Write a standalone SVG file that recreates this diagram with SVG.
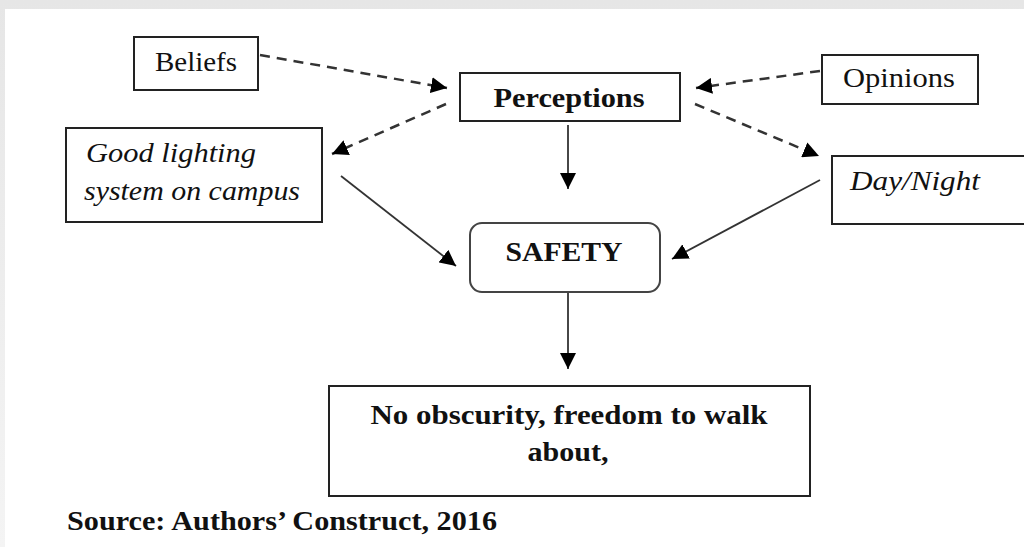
<svg xmlns="http://www.w3.org/2000/svg" width="1024" height="547" viewBox="0 0 1024 547">
<defs>
<linearGradient id="topg" x1="0" y1="0" x2="0" y2="1"><stop offset="0" stop-color="#e6e6e6"/><stop offset="1" stop-color="#f4f4f4"/></linearGradient>
<marker id="ah" viewBox="0 0 10 10" refX="10" refY="5" markerWidth="16" markerHeight="16" markerUnits="userSpaceOnUse" orient="auto"><path d="M0,0 L10,5 L0,10 Z" fill="#000"/></marker>
</defs>
<style>
.box{fill:#fff;stroke:#222;stroke-width:2}
.t{font-family:"Liberation Serif","Times New Roman",serif;font-size:28px;fill:#111}
.b{font-weight:bold}
.i{font-style:italic}
.dash{fill:none;stroke:#333;stroke-width:2.5;stroke-dasharray:10,7}
.sol{fill:none;stroke:#333;stroke-width:1.8}
</style>
<rect x="0" y="0" width="1024" height="547" fill="url(#topg)"/>
<rect x="5" y="9" width="1019" height="538" fill="#fff"/>
<g id="connectors">
<path class="dash" d="M260,55 L447,88" marker-end="url(#ah)"/>
<path class="dash" d="M820,71 L696,88" marker-end="url(#ah)"/>
<path class="dash" d="M446,104 L332,154" marker-end="url(#ah)"/>
<path class="dash" d="M695,104 L819,156" marker-end="url(#ah)"/>
<path class="sol" d="M568,125 L568,189" marker-end="url(#ah)"/>
<path class="sol" d="M341,176 L456,266" marker-end="url(#ah)"/>
<path class="sol" d="M820,180 L672,259" marker-end="url(#ah)"/>
<path class="sol" d="M568,293 L568,369" marker-end="url(#ah)"/>
</g>
<g id="beliefs">
<rect class="box" x="134" y="37" width="124" height="53"/>
<text class="t" x="196" y="71" text-anchor="middle" textLength="82" lengthAdjust="spacingAndGlyphs">Beliefs</text>
</g>
<g id="perceptions">
<rect class="box" x="460" y="73" width="220" height="48"/>
<text class="t b" x="569" y="107" text-anchor="middle" textLength="151" lengthAdjust="spacingAndGlyphs">Perceptions</text>
</g>
<g id="opinions">
<rect class="box" x="822" y="55" width="156" height="49"/>
<text class="t" x="899" y="87" text-anchor="middle" textLength="112" lengthAdjust="spacingAndGlyphs">Opinions</text>
</g>
<g id="lighting">
<rect class="box" x="66" y="128" width="256" height="94"/>
<text class="t i" x="86" y="162" textLength="170" lengthAdjust="spacingAndGlyphs">Good lighting</text>
<text class="t i" x="84" y="200" textLength="216" lengthAdjust="spacingAndGlyphs">system on campus</text>
</g>
<g id="daynight">
<rect class="box" x="832" y="156" width="200" height="68"/>
<text class="t i" x="850" y="190" textLength="130" lengthAdjust="spacingAndGlyphs">Day/Night</text>
</g>
<g id="safety">
<rect class="box" x="470" y="223" width="190" height="69" rx="12" ry="12" style="stroke:#444"/>
<text class="t b" x="564" y="261" text-anchor="middle" textLength="117" lengthAdjust="spacingAndGlyphs">SAFETY</text>
</g>
<g id="outcome">
<rect class="box" x="329" y="386" width="481" height="110"/>
<text class="t b" x="569" y="424" text-anchor="middle" textLength="397" lengthAdjust="spacingAndGlyphs">No obscurity, freedom to walk</text>
<text class="t b" x="568" y="461" text-anchor="middle" textLength="81" lengthAdjust="spacingAndGlyphs">about,</text>
</g>
<g id="source">
<text class="t b" x="67" y="530" textLength="430" lengthAdjust="spacingAndGlyphs" style="font-size:27px">Source: Authors’ Construct, 2016</text>
</g>
</svg>
